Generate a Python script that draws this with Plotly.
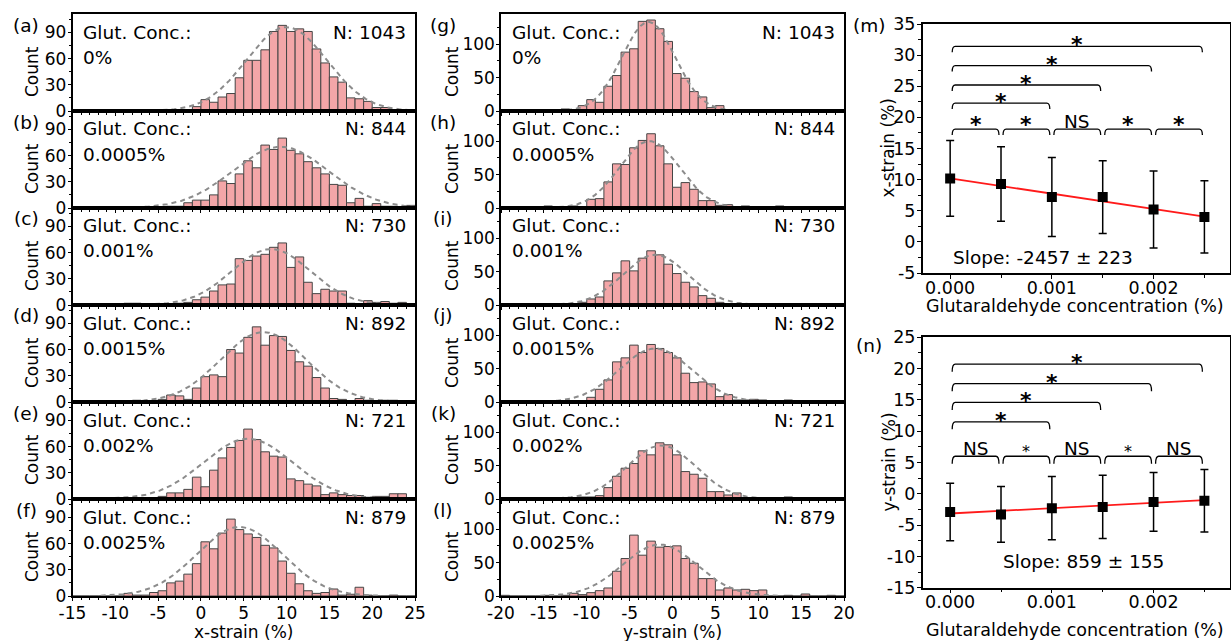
import numpy as np
import plotly.graph_objects as go

W, H = 1231, 641
FONT = "DejaVu Sans, Liberation Sans, Arial, sans-serif"

# ---------------- data ----------------
x_bin_left = list(range(-15, 25))   # x-strain histogram bin left edges (%), width 1
y_bin_left = list(range(-20, 20))   # y-strain histogram bin left edges (%), width 1
x_ticks = list(range(-15, 26, 5))
y_ticks = list(range(-20, 21, 5))

counts_a = [0,0,0,0,0,0,0,0,0,0,0, 0,1,1,5,13,10,16,20,38,58,58,70,91,98,91,94,91,71,55,39,33,15,14,11,4,4,1,1,1]
counts_b = [0,0,0,0,0,1,0,0,1,0,0,2,2,6,9,9,15,31,28,39,54,46,72,67,80,66,62,53,46,39,27,26,6,11,2,5,2,2,1,3]
counts_c = [1,0,0,0,0,0,2,2,1,1,0,1,2,3,6,9,16,23,24,53,51,56,58,66,71,43,55,26,13,18,16,16,2,0,5,3,4,2,3,0]
counts_d = [0,0,0,0,0,0,0,2,1,1,3,8,7,3,16,29,31,29,60,56,74,86,65,76,75,59,46,41,28,16,4,3,1,4,2,1,2,2,1,0]
counts_e = [0,1,0,0,0,1,1,1,0,1,3,7,7,11,25,14,33,47,59,67,80,68,54,49,48,23,21,17,15,5,7,5,4,4,2,3,3,6,6,0]
counts_f = [0,0,0,0,0,0,3,1,1,4,6,15,17,25,37,62,54,72,88,76,71,67,58,55,40,26,14,6,3,4,8,1,2,10,1,0,0,1,0,0]

counts_g = [0,0,0,0,0,0,0,3,2,8,17,13,37,53,88,93,134,136,123,104,56,49,29,21,5,8,1,0,0,0,0,0,0,0,0,0,0,0,0,0]
counts_h = [0,0,0,0,0,3,1,0,3,1,13,14,39,66,65,90,101,111,93,66,31,38,28,11,11,4,5,0,3,0,0,0,3,0,0,0,0,0,0,0]
counts_i = [1,0,0,0,0,2,0,1,0,4,9,12,36,48,66,51,70,81,75,61,47,34,27,14,10,4,1,0,1,1,2,0,2,2,2,0,0,2,0,0]
counts_j = [1,0,1,0,0,0,0,0,0,2,7,19,33,60,66,85,74,86,80,74,66,43,29,30,27,8,11,3,3,4,3,0,2,3,0,0,0,0,1,0]
counts_k = [1,0,0,0,0,1,0,0,0,3,3,5,17,34,46,53,72,66,84,81,66,41,37,31,11,11,6,9,2,1,0,0,0,3,1,0,0,0,0,0]
counts_l = [1,0,0,0,0,1,0,1,4,2,5,8,12,37,56,91,61,82,73,74,75,56,49,26,26,9,12,9,10,8,9,0,0,1,0,3,0,0,1,0]

x_panel_letters = ["(a)", "(b)", "(c)", "(d)", "(e)", "(f)"]
y_panel_letters = ["(g)", "(h)", "(i)", "(j)", "(k)", "(l)"]
conc_labels = ["0%", "0.0005%", "0.001%", "0.0015%", "0.002%", "0.0025%"]
n_cells = [1043, 844, 730, 892, 721, 879]

# Gaussian fits (amplitude, centre, width)
x_fit_amp = [96, 70, 64, 80, 69, 79]
x_fit_mu = [10.0, 9.3, 8.2, 7.3, 5.5, 4.5]
x_fit_sigma = [4.7, 5.6, 4.6, 5.0, 5.2, 5.0]
y_fit_amp = [133, 100, 75, 80, 80, 77]
y_fit_mu = [-2.8, -2.7, -2.0, -2.0, -1.3, -1.5]
y_fit_sigma = [3.1, 3.5, 3.8, 4.2, 4.0, 4.3]

# Summary panels
conc = [0.0, 0.0005, 0.001, 0.0015, 0.002, 0.0025]
conc_ticks = [0.0, 0.001, 0.002]
conc_ticktext = ["0.000", "0.001", "0.002"]
xstrain_mean = [10.2, 9.3, 7.2, 7.2, 5.2, 4.0]
xstrain_sd = [6.1, 6.0, 6.35, 5.85, 6.2, 5.8]
ystrain_mean = [-2.9, -3.3, -2.3, -2.1, -1.3, -1.1]
ystrain_sd = [4.6, 4.45, 5.05, 5.05, 4.7, 5.0]
xstrain_ticks = list(range(-5, 36, 5))
ystrain_ticks = list(range(-15, 26, 5))
x_slope, x_intercept = -2457, 10.2
y_slope, y_intercept = 859, -3.15
x_short_labels = ["*", "*", "NS", "*", "*"]
y_short_labels = ["NS", "*", "NS", "*", "NS"]
x_short_level, x_long_levels = 18.1, [22.3, 25.2, 28.3, 31.4]
y_short_level, y_long_levels = 6.0, [11.5, 14.6, 17.6, 20.7]

# ---------------- figure ----------------
def px_x(p):
    return p / W

def px_y(p):
    return 1 - p / H

fig = go.Figure()
layout = dict(template="none", width=W, height=H, margin=dict(l=0, r=0, t=0, b=0, pad=0),
              paper_bgcolor="white", plot_bgcolor="white", showlegend=False,
              font=dict(family=FONT, size=18, color="black"))
annotations = []
shapes = []

axis_common = dict(showline=True, linecolor="black", linewidth=1.5, mirror=True, automargin=False,
                   showgrid=False, zeroline=False, ticks="outside", tickcolor="black",
                   ticklen=3, tickwidth=1.2)

def ax_names(idx):
    s = "" if idx == 1 else str(idx)
    return "xaxis" + s, "yaxis" + s, "x" + s, "y" + s

BAR_FILL = "#F3A6A8"
BAR_EDGE = "#454545"
TXT = 18.5
TITLE = 17
TICK = 17

cols = [
    dict(left=72.5, right=415, rng=[-15, 25], edges=x_bin_left, ticks=x_ticks,
         counts=[counts_a, counts_b, counts_c, counts_d, counts_e, counts_f],
         letters=x_panel_letters, amp=x_fit_amp, mu=x_fit_mu, sig=x_fit_sigma,
         ymax=111, dtick=30, mtick=15, title="x-strain (%)", letter_x=26, count_x=32,
         text_left=81, text_right=408),
    dict(left=501, right=844, rng=[-20, 20], edges=y_bin_left, ticks=y_ticks,
         counts=[counts_g, counts_h, counts_i, counts_j, counts_k, counts_l],
         letters=y_panel_letters, amp=y_fit_amp, mu=y_fit_mu, sig=y_fit_sigma,
         ymax=145, dtick=50, mtick=25, title="y-strain (%)", letter_x=443, count_x=452,
         text_left=510, text_right=837),
]

for c, col in enumerate(cols):
    for r in range(6):
        idx = c * 6 + r + 1
        xa, ya, xr, yr = ax_names(idx)
        top = 14 + 97 * r
        bot = top + 97
        edges = np.array(col["edges"], dtype=float)
        fig.add_trace(go.Bar(x=edges + 0.5, y=col["counts"][r], width=1.0,
                             marker=dict(color=BAR_FILL, line=dict(color=BAR_EDGE, width=1)),
                             xaxis=xr, yaxis=yr))
        xs = np.linspace(col["rng"][0], col["rng"][1], 500)
        ys = col["amp"][r] * np.exp(-(xs - col["mu"][r]) ** 2 / (2 * col["sig"][r] ** 2))
        keep = ys > 0.4
        fig.add_trace(go.Scatter(x=xs[keep], y=ys[keep], mode="lines",
                                 line=dict(color="#8c8c8c", width=2, dash="5px,4px"),
                                 xaxis=xr, yaxis=yr, hoverinfo="skip"))
        last = r == 5
        layout[xa] = dict(axis_common, domain=[px_x(col["left"]), px_x(col["right"])],
                          range=col["rng"], anchor=yr, tickvals=col["ticks"],
                          ticktext=[str(v) for v in col["ticks"]],
                          showticklabels=last, tickfont=dict(size=TICK), ticklabelstandoff=-2,
                          minor=dict(dtick=1, tick0=0, ticklen=2, tickcolor="black", ticks="outside"))
        layout[ya] = dict(axis_common, domain=[px_y(bot), px_y(top)], range=[0, col["ymax"]],
                          anchor=xr, dtick=col["dtick"], tick0=0, tickfont=dict(size=TICK),
                          ticklabelstandoff=-2,
                          minor=dict(dtick=col["mtick"], ticklen=2, tickcolor="black", ticks="outside"))
        annotations += [
            dict(text=col["letters"][r], x=px_x(col["letter_x"]), y=px_y(top + 11), xref="paper", yref="paper",
                 xanchor="center", yanchor="middle", showarrow=False, font=dict(size=TXT)),
            dict(text="Count", x=px_x(col["count_x"]), y=px_y(top + 58), xref="paper", yref="paper",
                 textangle=-90, xanchor="center", yanchor="middle", showarrow=False, font=dict(size=TITLE)),
            dict(text="Glut. Conc.:", x=px_x(col["text_left"]), y=px_y(top + 18), xref="paper", yref="paper",
                 xanchor="left", yanchor="middle", showarrow=False, font=dict(size=TXT)),
            dict(text=conc_labels[r], x=px_x(col["text_left"]), y=px_y(top + 43), xref="paper", yref="paper",
                 xanchor="left", yanchor="middle", showarrow=False, font=dict(size=TXT)),
            dict(text="N: %d" % n_cells[r], x=px_x(col["text_right"]), y=px_y(top + 18), xref="paper",
                 yref="paper", xanchor="right", yanchor="middle", showarrow=False, font=dict(size=TXT)),
        ]
    annotations.append(dict(text=col["title"], x=px_x((col["left"] + col["right"]) / 2), y=px_y(632),
                            xref="paper", yref="paper", xanchor="center", yanchor="middle",
                            showarrow=False, font=dict(size=TITLE)))

# ---------------- summary panels ----------------
summary = [
    dict(idx=13, top=24, bot=273, yr=[-5, 35], mean=xstrain_mean, sd=xstrain_sd, yticks=xstrain_ticks,
         slope=x_slope, icpt=x_intercept, letter="(m)", letter_y=25.5, ytitle="x-strain (%)",
         short_labels=x_short_labels, short_level=x_short_level, long_levels=x_long_levels,
         hook=0.95, slope_text="Slope: -2457 \u00b1 223", slope_pos=(1043, 258), xtitle_y=306,
         small_star=False),
    dict(idx=14, top=337.3, bot=587.7, yr=[-15, 25], mean=ystrain_mean, sd=ystrain_sd, yticks=ystrain_ticks,
         slope=y_slope, icpt=y_intercept, letter="(n)", letter_y=345, ytitle="y-strain (%)",
         short_labels=y_short_labels, short_level=y_short_level, long_levels=y_long_levels,
         hook=1.2, slope_text="Slope: 859 \u00b1 155", slope_pos=(1083, 561.5), xtitle_y=630,
         small_star=True),
]
RX0, RX1 = 922.7, 1229.5
x_lo = -0.00027
x_hi = x_lo + (RX1 - RX0) / 101.7 * 0.001

for s in summary:
    xa, ya, xr, yr = ax_names(s["idx"])
    cx = np.array(conc)
    fit_x = np.array([cx.min(), cx.max()])
    fig.add_trace(go.Scatter(x=fit_x, y=s["icpt"] + s["slope"] * fit_x, mode="lines",
                             line=dict(color="#ff1a1a", width=1.8), xaxis=xr, yaxis=yr))
    fig.add_trace(go.Scatter(x=conc, y=s["mean"], mode="markers",
                             marker=dict(symbol="square", size=10, color="black"),
                             error_y=dict(type="data", array=s["sd"], color="black", thickness=1.5, width=4),
                             xaxis=xr, yaxis=yr))
    layout[xa] = dict(axis_common, domain=[px_x(RX0), px_x(RX1)], range=[x_lo, x_hi], anchor=yr,
                      tickvals=conc_ticks, ticktext=conc_ticktext,
                      tickfont=dict(size=TICK + 0.5), ticklen=4, ticklabelstandoff=-6,
                      minor=dict(tickvals=[0.0005, 0.0015, 0.0025], ticklen=3, tickcolor="black", ticks="outside"))
    layout[ya] = dict(axis_common, domain=[px_y(s["bot"]), px_y(s["top"])], range=s["yr"], anchor=xr,
                      tickvals=s["yticks"], ticktext=[str(v) for v in s["yticks"]],
                      tickfont=dict(size=TICK + 0.5), ticklen=4, ticklabelstandoff=-2,
                      minor=dict(dtick=2.5, tick0=0, ticklen=3, tickcolor="black", ticks="outside"))
    annotations += [
        dict(text=s["letter"], x=px_x(869), y=px_y(s["letter_y"]), xref="paper", yref="paper",
             xanchor="center", yanchor="middle", showarrow=False, font=dict(size=TXT)),
        dict(text=s["ytitle"], x=px_x(888), y=px_y((s["top"] + s["bot"]) / 2), xref="paper", yref="paper",
             textangle=-90, xanchor="center", yanchor="middle", showarrow=False, font=dict(size=TITLE)),
        dict(text="Glutaraldehyde concentration (%)", x=px_x(1075), y=px_y(s["xtitle_y"]), xref="paper",
             yref="paper", xanchor="center", yanchor="middle", showarrow=False, font=dict(size=TITLE + 0.5)),
        dict(text=s["slope_text"], x=px_x(s["slope_pos"][0]), y=px_y(s["slope_pos"][1]), xref="paper",
             yref="paper", xanchor="center", yanchor="middle", showarrow=False, font=dict(size=TXT)),
    ]
    # significance brackets
    inset = 0.00002
    rr = 0.00003
    h = s["hook"]
    pairs = [(conc[i], conc[i + 1], s["short_level"], s["short_labels"][i]) for i in range(5)]
    pairs += [(conc[0], conc[j + 2], s["long_levels"][j], "*") for j in range(4)]
    for k, (a, b, lev, lab) in enumerate(pairs):
        x0, x1 = a + inset, b - inset
        path = (f"M {x0},{lev - h} Q {x0},{lev} {x0 + rr},{lev} L {x1 - rr},{lev} "
                f"Q {x1},{lev} {x1},{lev - h}")
        shapes.append(dict(type="path", path=path, xref=xr, yref=yr,
                           line=dict(color="black", width=1.3)))
        if lab == "NS":
            annotations.append(dict(text="NS", x=(a + b) / 2, y=lev, xref=xr, yref=yr, xanchor="center",
                                    yanchor="bottom", yshift=-5, showarrow=False, font=dict(size=TXT)))
        else:
            small = s["small_star"] and k < 5
            shift = -7 if small else (-10 if k < 5 else -13)
            annotations.append(dict(text="*" if small else "<b>*</b>", x=(a + b) / 2, y=lev, xref=xr, yref=yr,
                                    xanchor="center", yanchor="bottom", yshift=shift,
                                    showarrow=False, font=dict(size=16 if small else 22, color="black")))

layout["annotations"] = annotations
layout["shapes"] = shapes
fig.update_layout(**layout)
fig.write_html("out.html")
